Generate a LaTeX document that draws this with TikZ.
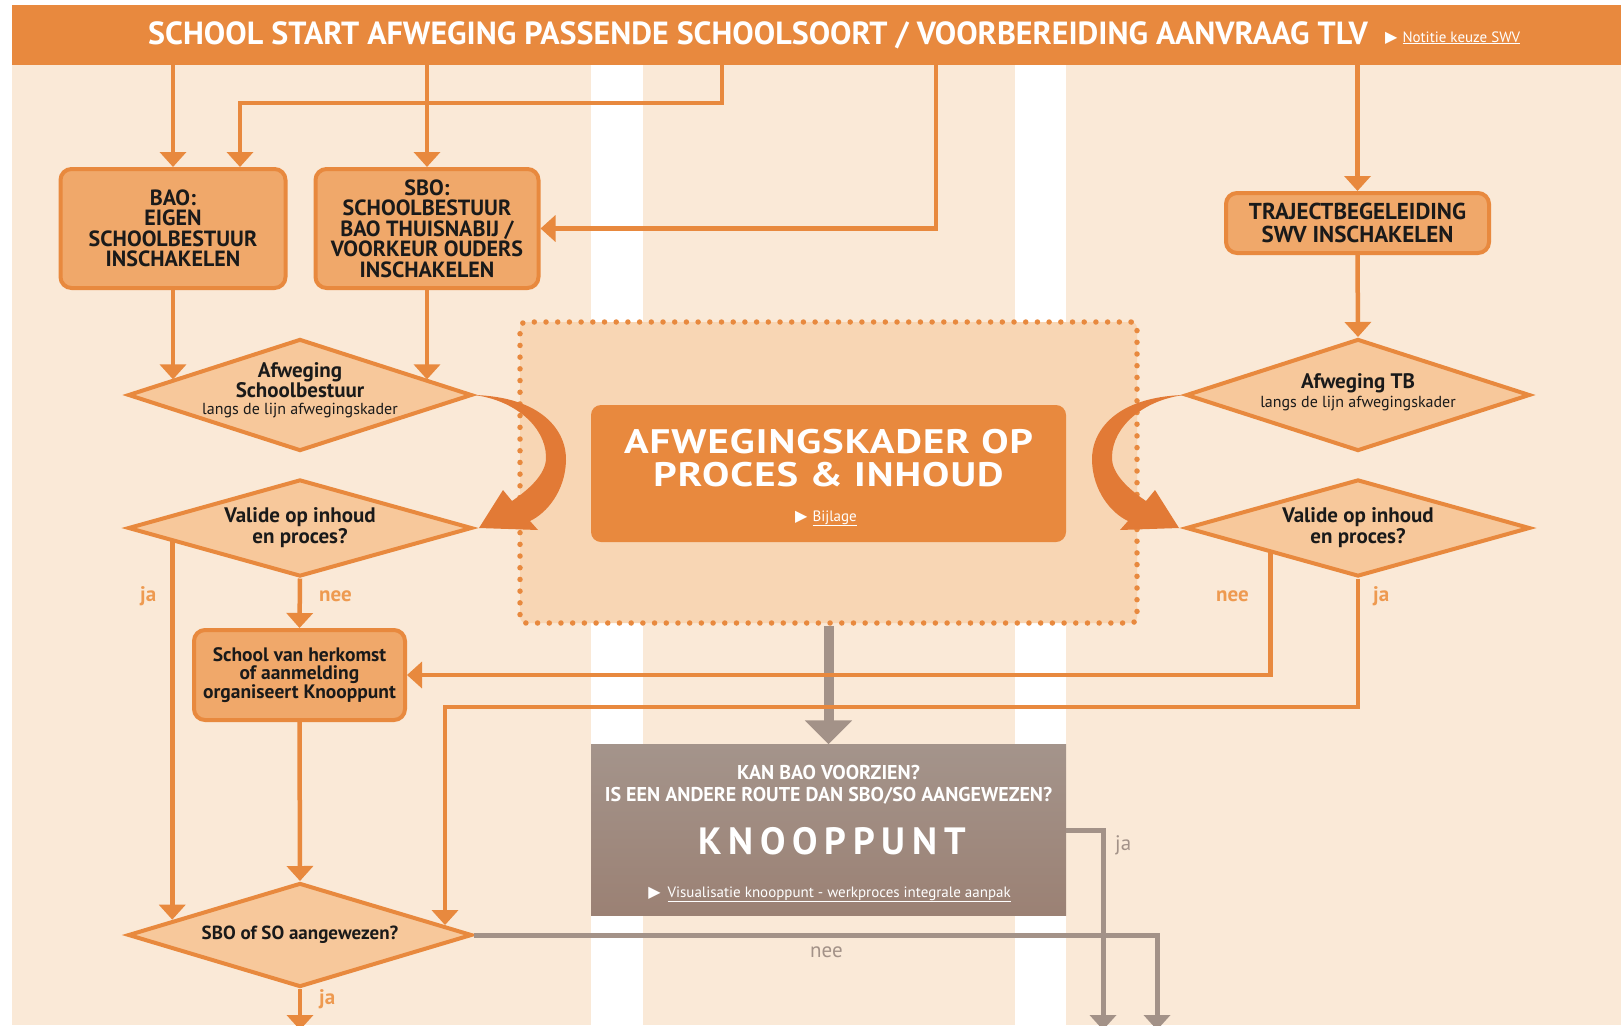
\documentclass[tikz,border=0pt]{standalone}
\usepackage{fontspec}
\setmainfont{PT Sans}
\newfontfamily\symbfont{DejaVu Sans}
\newfontfamily\spatiefont[LetterSpace=18]{PT Sans}
\newfontfamily\titelfont[FakeStretch=1.2,LetterSpace=3]{PT Sans}
\usetikzlibrary{arrows.meta,positioning,shapes.geometric}
\definecolor{oranje}{HTML}{E8893E}
\definecolor{perzik}{HTML}{FAE9D7}
\definecolor{kaderlicht}{HTML}{F8D6B4}
\definecolor{blokvul}{HTML}{F0A86A}
\definecolor{ruitvul}{HTML}{F7C89B}
\definecolor{bochtoranje}{HTML}{E27A36}
\definecolor{grijs}{HTML}{A39288}
\definecolor{knooptop}{HTML}{A4948B}
\definecolor{knoopbodem}{HTML}{9B8174}
\definecolor{labeloranje}{HTML}{EE9A50}
\definecolor{tekst}{HTML}{1A1A1A}

\newcommand{\bochtpad}{(0,0) .. controls (68,2) and (93,36) .. (92,66) .. controls (91,96) and (73,118) .. (56,126) -- (64,135) -- (5,133) -- (29,95) -- (38,106) .. controls (60,91) and (73,76) .. (72,61) .. controls (71,31) and (40,5) .. (0,0) -- cycle}

\begin{document}
\begin{tikzpicture}[x=1pt, y=-1pt,
    balk/.style={rectangle, fill=oranje, inner sep=0pt, minimum width=1609pt, minimum height=60pt},
    titel/.style={text=white, inner sep=0pt, font=\fontsize{32}{32}\selectfont\bfseries},
    link/.style={text=white, inner sep=0pt, font=\fontsize{15}{15}\selectfont},
    blok/.style={rectangle, rounded corners=11pt, draw=oranje, line width=4pt, fill=blokvul, align=center, text=tekst, font=\fontsize{22}{20.5}\selectfont\bfseries},
    ruit/.style={diamond, draw=oranje, line width=4pt, fill=ruitvul, inner sep=0pt, minimum width=344pt},
    ruittekst/.style={align=center, text=tekst, font=\fontsize{21}{17}\selectfont\bfseries},
    stippel/.style={rectangle, rounded corners=6pt, fill=kaderlicht, draw=oranje, line width=5.5pt, line cap=round, dash pattern=on 0pt off 11.7pt, minimum width=617pt, minimum height=301pt},
    hoofdblok/.style={rectangle, rounded corners=10pt, fill=oranje, minimum width=475pt, minimum height=137pt},
    knoop/.style={rectangle, top color=knooptop, bottom color=knoopbodem, minimum width=475pt, minimum height=171pt},
    wittekst/.style={text=white, inner sep=0pt, align=center},
    pijl/.style={draw=oranje, line width=4.5pt, -{Triangle[width=26pt,length=15pt]}},
    grijspijl/.style={draw=grijs, line width=5pt, -{Triangle[width=26pt,length=15pt]}},
    dikgrijs/.style={draw=grijs, line width=10pt, -{Triangle[width=46pt,length=24pt]}},
    keuze/.style={text=labeloranje, inner sep=0pt, anchor=base west, font=\fontsize{21}{21}\selectfont\bfseries},
    grijskeuze/.style={keuze, text=grijs, font=\fontsize{21}{21}\selectfont},
    bocht/.style={fill=bochtoranje}
]
    % achtergrond
    \useasboundingbox (0,0) rectangle (1621,1025);
    \fill[white] (0,0) rectangle (1621,1025);
    \fill[perzik] (12,5) rectangle (591,1025);
    \fill[perzik] (643,5) rectangle (1015,1025);
    \fill[perzik] (1066,5) rectangle (1621,1025);

    % kop
    \node[balk] (kop) at (816.5,35) {};
    \node[titel, anchor=base] (titel) at (758,45) {SCHOOL START AFWEGING PASSENDE SCHOOLSOORT / VOORBEREIDING AANVRAAG TLV};
    \node[link, anchor=base west] (notitie) at (1385,42) {{\symbfont\fontsize{16}{16}\selectfont ▶}\hspace{5pt}\underline{Notitie keuze SWV}};

    % afwegingskader
    \node[stippel] (kader) at (828.5,472.5) {};
    \node[hoofdblok] (afk) at (828.5,473.5) {};
    \node[wittekst, font=\fontsize{34}{33}\titelfont\bfseries] (afktitel) at (828.5,458.5) {AFWEGINGSKADER OP\\PROCES \& INHOUD};
    \node[wittekst, anchor=base, font=\fontsize{15}{15}\selectfont] (bijlage) at (826,521) {{\symbfont\fontsize{16}{16}\selectfont ▶}\hspace{5pt}\underline{Bijlage}};

    % knooppunt
    \node[knoop] (knp) at (828.5,830) {};
    \node[wittekst, anchor=base, font=\fontsize{20}{20}\selectfont\bfseries] (vraag1) at (828.5,779) {KAN BAO VOORZIEN?};
    \node[wittekst, anchor=base, font=\fontsize{20}{20}\selectfont\bfseries] (vraag2) at (828.5,801) {IS EEN ANDERE ROUTE DAN SBO/SO AANGEWEZEN?};
    \node[wittekst, anchor=base, font=\fontsize{38}{38}\spatiefont\bfseries] (knptitel) at (832,854) {KNOOPPUNT};
    \node[wittekst, anchor=base, font=\fontsize{15}{15}\selectfont] (visual) at (829.5,897) {{\symbfont\fontsize{16}{16}\selectfont ▶}\hspace{7pt}\underline{Visualisatie knooppunt - werkproces integrale aanpak}};

    % blokken
    \node[blok, minimum width=225pt, minimum height=119pt] (bao) at (173,228.5) {BAO:\\EIGEN\\SCHOOLBESTUUR\\INSCHAKELEN};
    \node[blok, minimum width=223pt, minimum height=119pt] (sbo) at (427,228.5) {SBO:\\SCHOOLBESTUUR\\BAO THUISNABIJ /\\VOORKEUR OUDERS\\INSCHAKELEN};
    \node[blok, minimum width=263pt, minimum height=60pt, font=\fontsize{23}{23}\selectfont\bfseries] (tb) at (1357.5,223) {TRAJECTBEGELEIDING\\SWV INSCHAKELEN};
    \node[blok, minimum width=211pt, minimum height=90pt, font=\fontsize{19.5}{18.6}\selectfont\bfseries] (herkomst) at (299.5,675) {School van herkomst\\of aanmelding\\organiseert Knooppunt};

    % ruiten
    \node[ruit, minimum height=112pt, label={[ruittekst, yshift=5pt]center:{Afweging\\Schoolbestuur\\{\mdseries\fontsize{16}{17}\selectfont langs de lijn afwegingskader}}}] (afw1) at (300,395) {};
    \node[ruit, minimum height=97pt, label={[ruittekst, font=\fontsize{21}{21}\selectfont\bfseries]center:{Valide op inhoud\\en proces?}}] (vld1) at (300,528) {};
    \node[ruit, minimum height=112pt, label={[ruittekst, yshift=3pt, font=\fontsize{21}{19}\selectfont\bfseries]center:{Afweging TB\\{\mdseries\fontsize{16}{17}\selectfont langs de lijn afwegingskader}}}] (afw2) at (1358,395) {};
    \node[ruit, minimum height=97pt, label={[ruittekst, font=\fontsize{21}{21}\selectfont\bfseries]center:{Valide op inhoud\\en proces?}}] (vld2) at (1358,528) {};
    \node[ruit, minimum height=104pt, label={[ruittekst, font=\fontsize{19}{19}\selectfont\bfseries]center:{SBO of SO aangewezen?}}] (sboso) at (300,935) {};

    % verbindingen
    \coordinate (knikbao) at (722,103);
    \coordinate (kniksbo) at (936,228.5);
    \coordinate (knikja) at (445,707);
    \coordinate (eindja) at (300,1030);
    \coordinate (eindknp) at (1103,1030);
    \coordinate (eindnee) at (1157,1030);

    \draw[dikgrijs] (kader.south) -- (knp.north);
    \draw[grijspijl] (knp.east) -| (eindknp);
    \draw[grijspijl] (sboso.east) -| (eindnee);

    \draw[pijl] (kop.south -| bao.north) -- (bao.north);
    \draw[pijl] (kop.south -| knikbao) -- (knikbao) -| ([xshift=67pt]bao.north);
    \draw[pijl] (kop.south -| sbo.north) -- (sbo.north);
    \draw[pijl] (kop.south -| kniksbo) |- (sbo.east);
    \draw[pijl] (kop.south -| tb.north) -- (tb.north);
    \draw[pijl] (bao.south) -- (bao.south |- afw1.173);
    \draw[pijl] (sbo.south) -- (sbo.south |- afw1.7);
    \draw[pijl] (tb.south) -- (afw2.north);
    \draw[pijl] (vld1.south) -- (herkomst.north);
    \draw[pijl] (vld1.186) -- (vld1.186 |- sboso.173);
    \draw[pijl] (herkomst.south) -- (sboso.north);
    \draw[pijl] (vld2.196) |- (herkomst.east);
    \draw[pijl] (vld2.south) |- (knikja) -- (knikja |- sboso.4);
    \draw[pijl] (sboso.south) -- (eindja);

    % bochtpijlen
    \begin{scope}[shift={(afw1.east)}]
        \fill[bocht] \bochtpad;
    \end{scope}
    \begin{scope}[shift={(afw2.west)}, xscale=-1]
        \fill[bocht] \bochtpad;
    \end{scope}

    % ja / nee
    \node[keuze] (ja1) at (140,601) {ja};
    \node[keuze] (nee1) at (319,601) {nee};
    \node[keuze] (nee2) at (1216,601) {nee};
    \node[keuze] (ja2) at (1373,601) {ja};
    \node[keuze] (ja3) at (319,1004) {ja};
    \node[grijskeuze] (nee3) at (810,957) {nee};
    \node[grijskeuze] (ja4) at (1115,850) {ja};
\end{tikzpicture}
\end{document}
